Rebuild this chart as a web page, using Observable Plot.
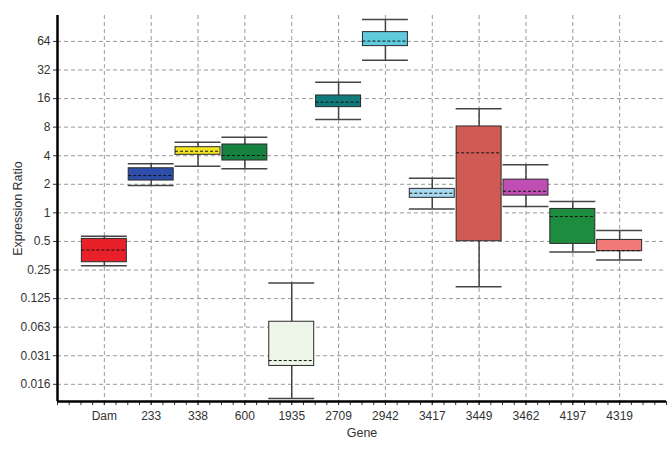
<!DOCTYPE html>
<html><head><meta charset="utf-8">
<script src="https://cdn.jsdelivr.net/npm/d3@7"></script>
<script src="https://cdn.jsdelivr.net/npm/@observablehq/plot@0.6"></script>
<style>body{margin:0;background:#fff}</style>
</head><body><div id="chart"></div>
<script>
const genes = ["Dam","233","338","600","1935","2709","2942","3417","3449","3462","4197","4319"];
const whiskerLow  = [0.277, 1.94, 3.10, 2.91, 0.0111, 9.63, 40.6, 1.10, 0.167, 1.17, 0.388, 0.319];
const boxLow      = [0.302, 2.19, 4.09, 3.56, 0.0244, 12.99, 57.1, 1.44, 0.502, 1.52, 0.471, 0.394];
const medians     = [0.406, 2.47, 4.46, 4.02, 0.0278, 14.66, 64.5, 1.61, 4.29, 1.69, 0.914, 0.400];
const boxHigh     = [0.532, 2.95, 4.92, 5.25, 0.0713, 17.25, 80.2, 1.79, 8.13, 2.24, 1.10, 0.519];
const whiskerHigh = [0.567, 3.29, 5.55, 6.27, 0.183, 23.8, 109, 2.32, 12.5, 3.21, 1.32, 0.651];
const boxColors = ["#e8202a","#2f4eab","#f2e522","#17813f","#eef5e9","#127a7a","#5fcbdd","#a9d9ee","#d05a54","#c04fb4","#1d8c3f","#f07a78"];
const yTickValues = [64, 32, 16, 8, 4, 2, 1, 0.5, 0.25, 0.125, 1/16, 1/32, 1/64];
const yTickLabels = ["64","32","16","8","4","2","1","0.5","0.25","0.125","0.063","0.031","0.016"];
const xTitle = "Gene";
const yTitle = "Expression Ratio";

const data = genes.map((g, i) => ({
  gene: g, pos: i + 1,
  lo: whiskerLow[i], q1: boxLow[i], med: medians[i], q3: boxHigh[i], hi: whiskerHigh[i]
}));
const positions = data.map(d => d.pos);
const minorTicks = d3.range(0, 13.001, 0.25);
const yDomain = [0.0103, 120];
const half = 0.48, capHalf = 0.49;

const chart = Plot.plot({
  width: 668, height: 452,
  marginTop: 15, marginBottom: 51, marginLeft: 57, marginRight: 2,
  style: {fontFamily: "'Liberation Sans', Arial, sans-serif", fontSize: "12px", color: "#333", background: "#fff"},
  x: {type: "linear", domain: [0, 13]},
  y: {type: "log", base: 2, domain: yDomain},
  color: {domain: genes, range: boxColors},
  marks: [
    Plot.ruleY(yTickValues, {stroke: "#9a9a9a", strokeDasharray: "4,3", strokeWidth: 1}),
    Plot.ruleX(positions, {stroke: "#9a9a9a", strokeDasharray: "4,3", strokeWidth: 1}),
    Plot.ruleX(data, {x: "pos", y1: "lo", y2: "hi", stroke: "#444", strokeWidth: 1.5}),
    Plot.ruleY(data, {y: "lo", x1: d => d.pos - capHalf, x2: d => d.pos + capHalf, stroke: "#444", strokeWidth: 1.5}),
    Plot.ruleY(data, {y: "hi", x1: d => d.pos - capHalf, x2: d => d.pos + capHalf, stroke: "#444", strokeWidth: 1.5}),
    Plot.rect(data, {x1: d => d.pos - half, x2: d => d.pos + half, y1: "q1", y2: "q3", fill: "gene", stroke: "#2a2a2a", strokeWidth: 1}),
    Plot.ruleY(data, {y: "med", x1: d => d.pos - half, x2: d => d.pos + half, stroke: "#111", strokeDasharray: "3,2", strokeWidth: 1}),
    Plot.axisY(yTickValues, {tickFormat: d => yTickLabels[yTickValues.indexOf(d)], tickSize: 4, tickPadding: 3, label: null}),
    Plot.axisX(positions, {tickFormat: d => genes[d - 1], tickSize: 4, tickPadding: 6, label: null}),
    Plot.axisX(minorTicks, {tickFormat: () => "", tickSize: 4, label: null}),
    Plot.ruleX([0], {stroke: "#000", strokeWidth: 2.5}),
    Plot.ruleY([yDomain[0]], {stroke: "#000", strokeWidth: 2.5}),
    Plot.text([yTitle], {frameAnchor: "left", textAnchor: "middle", dx: -40, rotate: -90, fill: "#333", fontSize: 12.5}),
    Plot.text([xTitle], {frameAnchor: "bottom", dy: 35, fill: "#333", fontSize: 12.5})
  ]
});
document.getElementById("chart").appendChild(chart);
</script>
</body></html>
